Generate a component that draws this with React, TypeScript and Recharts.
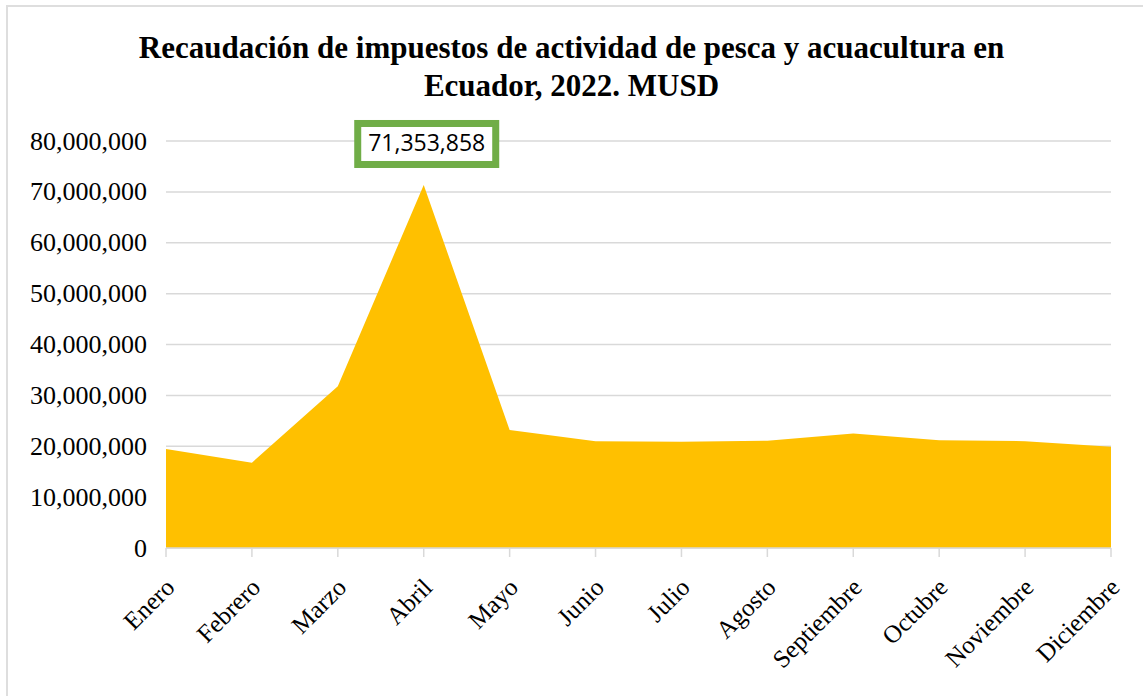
import React from "react";
import { AreaChart, Area, XAxis, YAxis, CartesianGrid, LabelList } from "recharts";

const months = [
  "Enero", "Febrero", "Marzo", "Abril", "Mayo", "Junio",
  "Julio", "Agosto", "Septiembre", "Octubre", "Noviembre", "Diciembre",
];
const recaudacion = [
  19450000, 16760000, 31800000, 71353858, 23200000, 21000000,
  20900000, 21100000, 22500000, 21200000, 21000000, 19900000,
];
const yTicks = [0, 10000000, 20000000, 30000000, 40000000, 50000000, 60000000, 70000000, 80000000];
const highlightMonth = "Abril";

const data = months.map((m, i) => ({ month: m, value: recaudacion[i] }));

const serif = '"Liberation Serif", "Times New Roman", serif';
const fmt = (v: number) => v.toLocaleString("en-US");

const MonthTick: React.FC<any> = ({ x, y, payload }) => (
  <g transform={`translate(${x + 10},${y + 30})`}>
    <text
      x={0}
      y={0}
      transform="rotate(-45)"
      textAnchor="end"
      fontFamily={serif}
      fontSize={25}
      fill="#000"
    >
      {payload.value}
    </text>
  </g>
);

const ValueTick: React.FC<any> = ({ x, y, payload }) => (
  <text
    x={x}
    y={y}
    textAnchor="end"
    dominantBaseline="central"
    fontFamily={serif}
    fontSize={26}
    fill="#000"
  >
    {fmt(payload.value)}
  </text>
);

const PeakLabel: React.FC<any> = ({ x, y, value, index }) => {
  if (months[index] !== highlightMonth) return null;
  const cx = x + 3;
  const cy = y - 41;
  return (
    <g>
      <rect x={cx - 69} y={cy - 20.5} width={138} height={41} fill="#fff" stroke="#70AD47" strokeWidth={7} />
      <text
        x={cx}
        y={cy + 1}
        textAnchor="middle"
        dominantBaseline="middle"
        fontFamily='"Open Sans", "Noto Sans", sans-serif'
        fontSize={23}
        fill="#000"
      >
        {fmt(value)}
      </text>
    </g>
  );
};

export default function App() {
  return (
    <div style={{ position: "absolute", left: 0, top: 0, width: 1143, height: 696, background: "#fff" }}>
      <div
        style={{
          position: "absolute",
          left: 6,
          top: 5,
          right: 0,
          bottom: 0,
          borderTop: "2px solid #dedede",
          borderLeft: "2px solid #dedede",
        }}
      />
      <div
        style={{
          position: "absolute",
          left: 0,
          top: 29,
          width: 1143,
          textAlign: "center",
          fontFamily: serif,
          fontWeight: "bold",
          fontSize: 31,
          lineHeight: "38px",
          color: "#000",
        }}
      >
        Recaudación de impuestos de actividad de pesca y acuacultura en
        <br />
        Ecuador, 2022. MUSD
      </div>
      <div style={{ position: "absolute", left: 0, top: 0 }}>
        <AreaChart
          width={1143}
          height={696}
          data={data}
          margin={{ top: 141, right: 32, bottom: 0, left: 16 }}
        >
          <CartesianGrid stroke="#d9d9d9" strokeWidth={1.5} vertical={false} />
          <XAxis
            dataKey="month"
            interval={0}
            axisLine={{ stroke: "#d9d9d9", strokeWidth: 1.5 }}
            tickLine={{ stroke: "#d9d9d9", strokeWidth: 1.5 }}
            tickSize={9}
            tickMargin={2}
            height={148}
            tick={<MonthTick />}
          />
          <YAxis
            width={150}
            domain={[0, 80000000]}
            ticks={yTicks}
            interval={0}
            axisLine={false}
            tickLine={false}
            tickSize={6}
            tickMargin={13}
            tick={<ValueTick />}
          />
          <Area
            type="linear"
            dataKey="value"
            stroke="none"
            fill="#FFC000"
            fillOpacity={1}
            isAnimationActive={false}
          >
            <LabelList dataKey="value" content={<PeakLabel />} />
          </Area>
        </AreaChart>
      </div>
    </div>
  );
}
